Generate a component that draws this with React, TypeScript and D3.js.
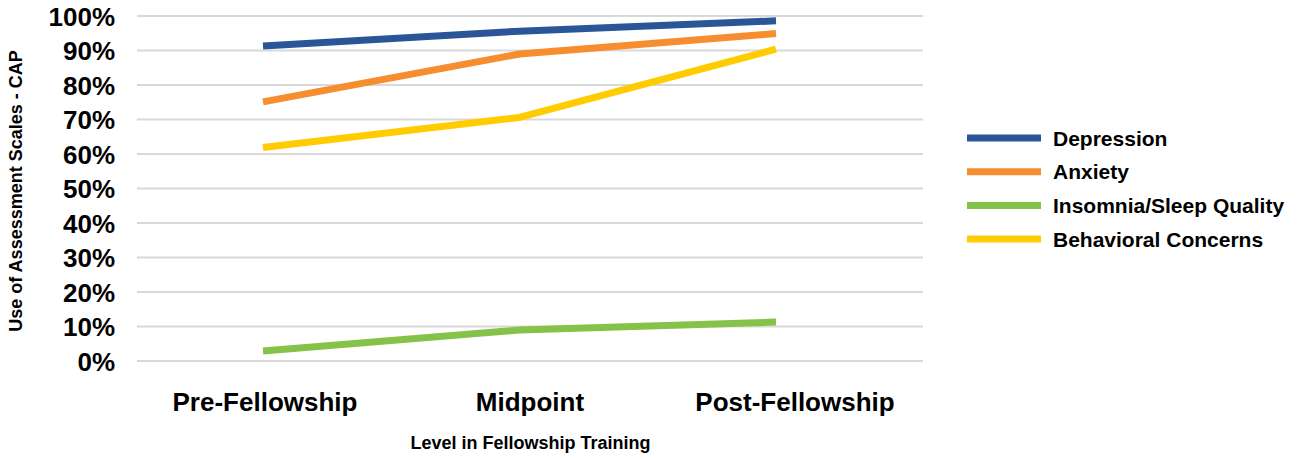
import React from "react";
import * as d3 from "d3";

const categories = ["Pre-Fellowship", "Midpoint", "Post-Fellowship"];
const seriesNames = ["Depression", "Anxiety", "Insomnia/Sleep Quality", "Behavioral Concerns"];
const depression = [91.3, 95.6, 98.6];
const anxiety = [75.1, 89.0, 94.9];
const insomnia = [2.9, 9.0, 11.3];
const behavioral = [61.9, 70.6, 90.4];
const yTicks = [0, 10, 20, 30, 40, 50, 60, 70, 80, 90, 100];
const colors = ["#2A5699", "#F68E2F", "#84C24A", "#FFCC02"];

const W = 1304;
const H = 459;
const FONT = "'Liberation Sans', Arial, Helvetica, sans-serif";

export default function App() {
  const series = [depression, anxiety, insomnia, behavioral];

  const y = d3.scaleLinear().domain([0, 100]).range([361, 16]);
  const xLabel = d3.scaleBand<string>().domain(categories).range([132.5, 927.5]);
  const xLine = d3.scalePoint<string>().domain(categories).range([263, 776]);

  const line = d3
    .line<number>()
    .x((_, i) => xLine(categories[i]) as number)
    .y((v) => y(v));

  return (
    <svg
      width={W}
      height={H}
      style={{ position: "absolute", left: 0, top: 0, background: "#fff" }}
      fontFamily={FONT}
      fontWeight="bold"
    >
      {yTicks.map((t) => (
        <g key={t}>
          <line x1={137} x2={923} y1={y(t)} y2={y(t)} stroke="#D9D9D9" strokeWidth={2} />
          <text x={115} y={y(t) + 9.5} textAnchor="end" fontSize={26} fill="#000">
            {t}%
          </text>
        </g>
      ))}

      {series.map((vals, i) => (
        <path
          key={seriesNames[i]}
          d={line(vals) as string}
          fill="none"
          stroke={colors[i]}
          strokeWidth={7}
          strokeLinejoin="round"
        />
      ))}

      {categories.map((c) => (
        <text
          key={c}
          x={(xLabel(c) as number) + xLabel.bandwidth() / 2}
          y={411}
          textAnchor="middle"
          fontSize={26}
          fill="#000"
        >
          {c}
        </text>
      ))}

      <text x={530.5} y={449} textAnchor="middle" fontSize={18} fill="#000">
        Level in Fellowship Training
      </text>

      <text
        transform={`translate(22,191) rotate(-90)`}
        textAnchor="middle"
        fontSize={18}
        fill="#000"
      >
        Use of Assessment Scales - CAP
      </text>

      {seriesNames.map((name, i) => {
        const cy = 138 + i * 33.7;
        return (
          <g key={name}>
            <line x1={967} x2={1041} y1={cy} y2={cy} stroke={colors[i]} strokeWidth={7} />
            <text x={1053} y={cy + 7.5} fontSize={21} fill="#000">
              {name}
            </text>
          </g>
        );
      })}
    </svg>
  );
}
